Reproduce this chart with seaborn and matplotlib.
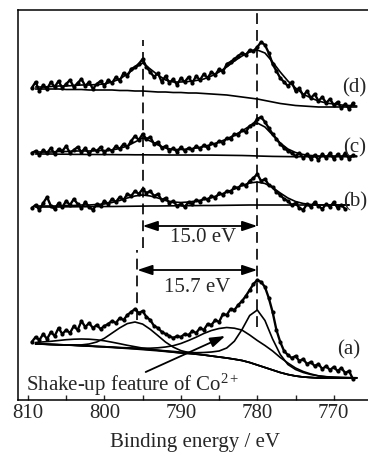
import numpy as np
import pandas as pd
import matplotlib
matplotlib.use("Agg")
import matplotlib.pyplot as plt
import seaborn as sns

# ---------------- data (intensity in arbitrary units, spectra stacked) ----------------
energy_data = np.arange(809.5, 767.4, -0.5)   # measured channels, 85 points
energy_fit = np.arange(809.0, 766.9, -1.0)    # fit curve grid, 43 points

spec_d = [312, 318, 309, 315, 311, 318, 313, 319, 312, 316,
          320, 313, 317, 321, 314, 318, 311, 316, 319, 314,
          320, 317, 323, 319, 327, 324, 331, 333, 336, 341,
          333, 328, 323, 327, 318, 324, 317, 321, 315, 322,
          318, 323, 317, 324, 320, 326, 322, 328, 325, 331,
          328, 336, 338, 341, 344, 347, 345, 350, 349, 353,
          358, 355, 347, 336, 329, 322, 318, 314, 318, 309,
          312, 304, 309, 302, 306, 299, 303, 297, 301, 295,
          298, 292, 296, 291, 297]
spec_c = [247, 249, 245, 250, 247, 252, 246, 251, 249, 254,
          247, 250, 253, 248, 252, 246, 251, 249, 253, 247,
          251, 249, 254, 251, 256, 253, 259, 264, 260, 266,
          261, 263, 256, 258, 252, 254, 249, 252, 248, 253,
          249, 252, 250, 254, 251, 255, 252, 257, 255, 259,
          257, 262, 261, 266, 265, 270, 268, 274, 276, 281,
          283, 278, 272, 266, 261, 256, 252, 249, 247, 244,
          247, 242, 246, 241, 245, 240, 246, 242, 247, 241,
          246, 242, 247, 241, 245]
spec_b = [192, 195, 190, 197, 203, 194, 191, 197, 193, 199,
          195, 201, 196, 192, 198, 193, 190, 196, 194, 199,
          196, 201, 198, 203, 200, 206, 204, 209, 206, 211,
          207, 209, 204, 206, 200, 202, 197, 199, 194, 196,
          193, 198, 196, 200, 198, 202, 200, 204, 202, 207,
          205, 209, 208, 213, 212, 216, 214, 219, 222, 226,
          219, 221, 215, 213, 208, 205, 201, 199, 195, 197,
          192, 190, 196, 193, 198, 194, 191, 196, 193, 198,
          192, 195, 191]
spec_a = [58, 63, 60, 66, 61, 68, 64, 72, 66, 70,
          67, 74, 70, 79, 73, 77, 72, 75, 71, 74,
          76, 79, 77, 82, 80, 85, 88, 91, 87, 89,
          83, 80, 74, 72, 68, 66, 64, 62, 64, 63,
          66, 65, 69, 67, 72, 70, 76, 75, 80, 78,
          86, 85, 91, 90, 95, 99, 104, 110, 116, 120,
          118, 113, 102, 88, 70, 58, 49, 45, 42, 44,
          39, 41, 36, 38, 34, 36, 31, 34, 30, 33,
          29, 32, 27, 29, 21]

fit_d = [313, 313, 313.5, 314, 314, 314.5, 315, 315, 315.5, 316,
         318, 321, 326, 332, 337, 331, 325, 320, 318, 318,
         318.5, 319.5, 321, 324, 328, 333, 339, 344, 348, 350,
         347, 338, 328, 319, 312, 306, 302, 299, 297, 296,
         295, 294.5, 294]
bg_d = [311, 311, 311, 311, 310.5, 310.5, 310.5, 310, 310, 310,
        310, 309.5, 309.5, 309, 309, 308.5, 308, 308, 307.5, 307.5,
        307, 307, 306.5, 306, 305.5, 305, 304, 303, 302, 301,
        299.5, 298, 296.5, 295.5, 294.5, 294, 293.5, 293, 293, 293,
        293, 293, 293]
fit_c = [248, 248, 248, 248.5, 248.5, 249, 249, 249, 249.5, 249.5,
         250, 251.5, 254, 258, 262, 259, 255, 252, 250.5, 250.5,
         251, 252, 253.5, 255.5, 258, 261, 265, 269, 274, 277,
         273, 265, 257, 251, 247.5, 245.5, 244.5, 244, 244, 244,
         244, 244, 244]
bg_c = [246, 246, 246, 245.8, 245.8, 245.6, 245.6, 245.5, 245.5, 245.4,
        245.4, 245.3, 245.3, 245.2, 245.2, 245.1, 245.1, 245, 245, 245,
        245, 245, 244.9, 244.9, 244.8, 244.7, 244.6, 244.5, 244.3, 244,
        243.8, 243.6, 243.5, 243.4, 243.3, 243.3, 243.3, 243.3, 243.3, 243.3,
        243.3, 243.3, 243.3]
fit_b = [194, 194, 194, 194, 194.5, 194.5, 195, 195, 195.5, 196,
         197.5, 199.5, 202, 204, 205, 204, 202, 199.5, 198, 197.5,
         198, 199, 200.5, 202.5, 205, 208, 211, 214.5, 217, 218,
         216.5, 212.5, 207, 202, 198.5, 196.5, 195.5, 195, 195, 195,
         195, 195]
bg_b = [193, 193, 193, 193, 193.2, 193.2, 193.3, 193.3, 193.4, 193.5,
        193.5, 193.6, 193.7, 193.8, 193.9, 194, 194, 194.1, 194.2, 194.3,
        194.3, 194.4, 194.5, 194.5, 194.6, 194.7, 194.8, 194.9, 195, 195,
        195, 195, 195, 195, 195, 195, 195, 195, 195, 195,
        195, 195]
bg_a = [56, 55.8, 55.5, 55.2, 55, 54.6, 54.2, 53.8, 53.4, 53,
        52.5, 52, 51.5, 51, 50.4, 49.8, 49.2, 48.5, 47.8, 47,
        46.5, 45.8, 45, 44, 43, 42, 40.8, 39.5, 37.5, 35,
        32.5, 30, 27.5, 25.5, 24, 23, 22.5, 22, 22, 22,
        22, 22, 22]
main_a = [56.1, 55.9, 55.6, 55.3, 55.1, 54.8, 54.4, 54.0, 53.6, 53.3,
          52.8, 52.3, 51.9, 51.4, 50.9, 50.3, 49.8, 49.2, 48.6, 47.9,
          47.6, 47.3, 47.5, 48, 49, 52, 58.8, 70.5, 84.5, 90,
          79.5, 61, 45.5, 35.5, 30.5, 27.5, 25.5, 24, 23.3, 22.8,
          22.5, 22.3, 22.2]
shake_a = [56.1, 55.9, 55.6, 55.3, 55.1, 54.7, 54.3, 54.0, 53.6, 53.3,
           52.9, 52.5, 52.2, 52.0, 51.8, 51.8, 52.2, 53.0, 54.3, 56.5,
           59.5, 62.8, 66.5, 69.5, 71.5, 72.5, 71.8, 69.9, 65, 59.5,
           54.5, 49, 42.5, 37, 32, 28.5, 26, 24.2, 23.2, 22.8,
           22.5, 22.3, 22.2]
peak796_a = [56, 55.8, 55.5, 55.3, 55.1, 55.0, 55.1, 56.0, 58.0, 61.7,
             66.9, 72.1, 76.4, 78, 75.9, 70.7, 64.4, 57.9, 52.9, 49.4,
             47.5, 46.2, 45.1, 44, 43, 42, 40.8, 39.5, 37.5, 35,
             32.5, 30, 27.5, 25.5, 24, 23, 22.5, 22, 22, 22,
             22, 22, 22]
sat_a = [57.5, 58.1, 58.7, 59.5, 60.3, 60.8, 61.0, 60.8, 60.2, 59.2,
         57.8, 56.3, 54.7, 53.3, 51.9, 50.7, 49.7, 48.8, 47.95, 47.1,
         46.5, 45.8, 45, 44, 43, 42, 40.8, 39.5, 37.5, 35,
         32.5, 30, 27.5, 25.5, 24, 23, 22.5, 22, 22, 22,
         22, 22, 22]

spectrum_labels = ["(d)", "(c)", "(b)", "(a)"]
peak_marks = [795.0, 795.7, 780.0]
splittings = ["15.0 eV", "15.7 eV"]
xticks_major = [810, 800, 790, 780, 770]
xticks_minor = [805, 795, 785, 775]

# ---------------- style ----------------
sns.set_style("white")
plt.rcParams["font.family"] = ["Liberation Serif", "DejaVu Serif"]
plt.rcParams["mathtext.fontset"] = "custom"
plt.rcParams["mathtext.rm"] = "Liberation Serif"
plt.rcParams["mathtext.it"] = "Liberation Serif:italic"
FS = 15

fig = plt.figure(figsize=(3.68, 4.61), dpi=100)
ax = fig.add_axes([18 / 368, 61 / 461, (372 - 18) / 368, 390 / 461])

def data_line(x, y):
    sns.lineplot(x=x, y=y, ax=ax, color="black", linewidth=1.7, marker="o",
                 markersize=3.0, markeredgewidth=0, sort=False, estimator=None)

def fit_line(x, y):
    sns.lineplot(x=x, y=y, ax=ax, color="black", linewidth=1.2,
                 sort=False, estimator=None)

data_line(energy_data, spec_d)
data_line(energy_data, spec_c)
data_line(energy_data[:len(spec_b)], spec_b)
data_line(energy_data, spec_a)

fit_line(energy_fit, fit_d)
fit_line(energy_fit, bg_d)
fit_line(energy_fit, fit_c)
fit_line(energy_fit, bg_c)
fit_line(energy_fit[:len(fit_b)], fit_b)
fit_line(energy_fit[:len(bg_b)], bg_b)
for curve in (bg_a, main_a, shake_a, peak796_a, sat_a):
    fit_line(energy_fit, curve)

# dashed guide lines
dash = (0, (6.5, 3.6))
ax.vlines(peak_marks[0], 152, 360, colors="black", linestyles=dash, linewidth=1.2)
ax.vlines(peak_marks[1], 80, 150, colors="black", linestyles=dash, linewidth=1.2)
ax.vlines(peak_marks[2], 73, 388, colors="black", linestyles=dash, linewidth=1.2)

# splitting arrows
aprops = dict(arrowstyle="<|-|>,head_length=0.9,head_width=0.3", color="black",
              lw=1.3, shrinkA=0, shrinkB=0)
ax.annotate("", xy=(peak_marks[2], 174), xytext=(peak_marks[0], 174), arrowprops=aprops)
ax.annotate("", xy=(peak_marks[2], 130), xytext=(peak_marks[1], 130), arrowprops=aprops)
ax.text(787.1, 162, splittings[0], ha="center", va="center", fontsize=FS)
ax.text(787.8, 113, splittings[1], ha="center", va="center", fontsize=FS)

# shake-up annotation
ax.annotate("", xy=(784.2, 64), xytext=(794.6, 28),
            arrowprops=dict(arrowstyle="-|>,head_length=0.9,head_width=0.3",
                            color="black", lw=1.3, shrinkA=0, shrinkB=0))
ax.text(810.3, 9, "Shake-up feature of Co$^{2+}$", ha="left", va="baseline", fontsize=FS)

# spectrum labels
label_pos = [(768.85, 312), (768.75, 252), (768.75, 198), (769.6, 50)]
for lab, (lx, ly) in zip(spectrum_labels, label_pos):
    ax.text(lx, ly, lab, ha="left", va="center", fontsize=FS)

ax.set_xlim(811.3, 765.0)
ax.set_ylim(0, 390)
ax.set_xticks(xticks_major)
ax.set_xticks(xticks_minor, minor=True)
ax.set_yticks([])
ax.tick_params(axis="x", which="both", direction="in", length=3.6, width=1.0,
               labelsize=FS, pad=3, bottom=True, top=False)
for s in ax.spines.values():
    s.set_linewidth(1.1)
    s.set_color("black")
ax.set_xlabel("Binding energy / eV", fontsize=FS, labelpad=7)
ax.set_ylabel("")

fig.savefig("out.png", dpi=100)
